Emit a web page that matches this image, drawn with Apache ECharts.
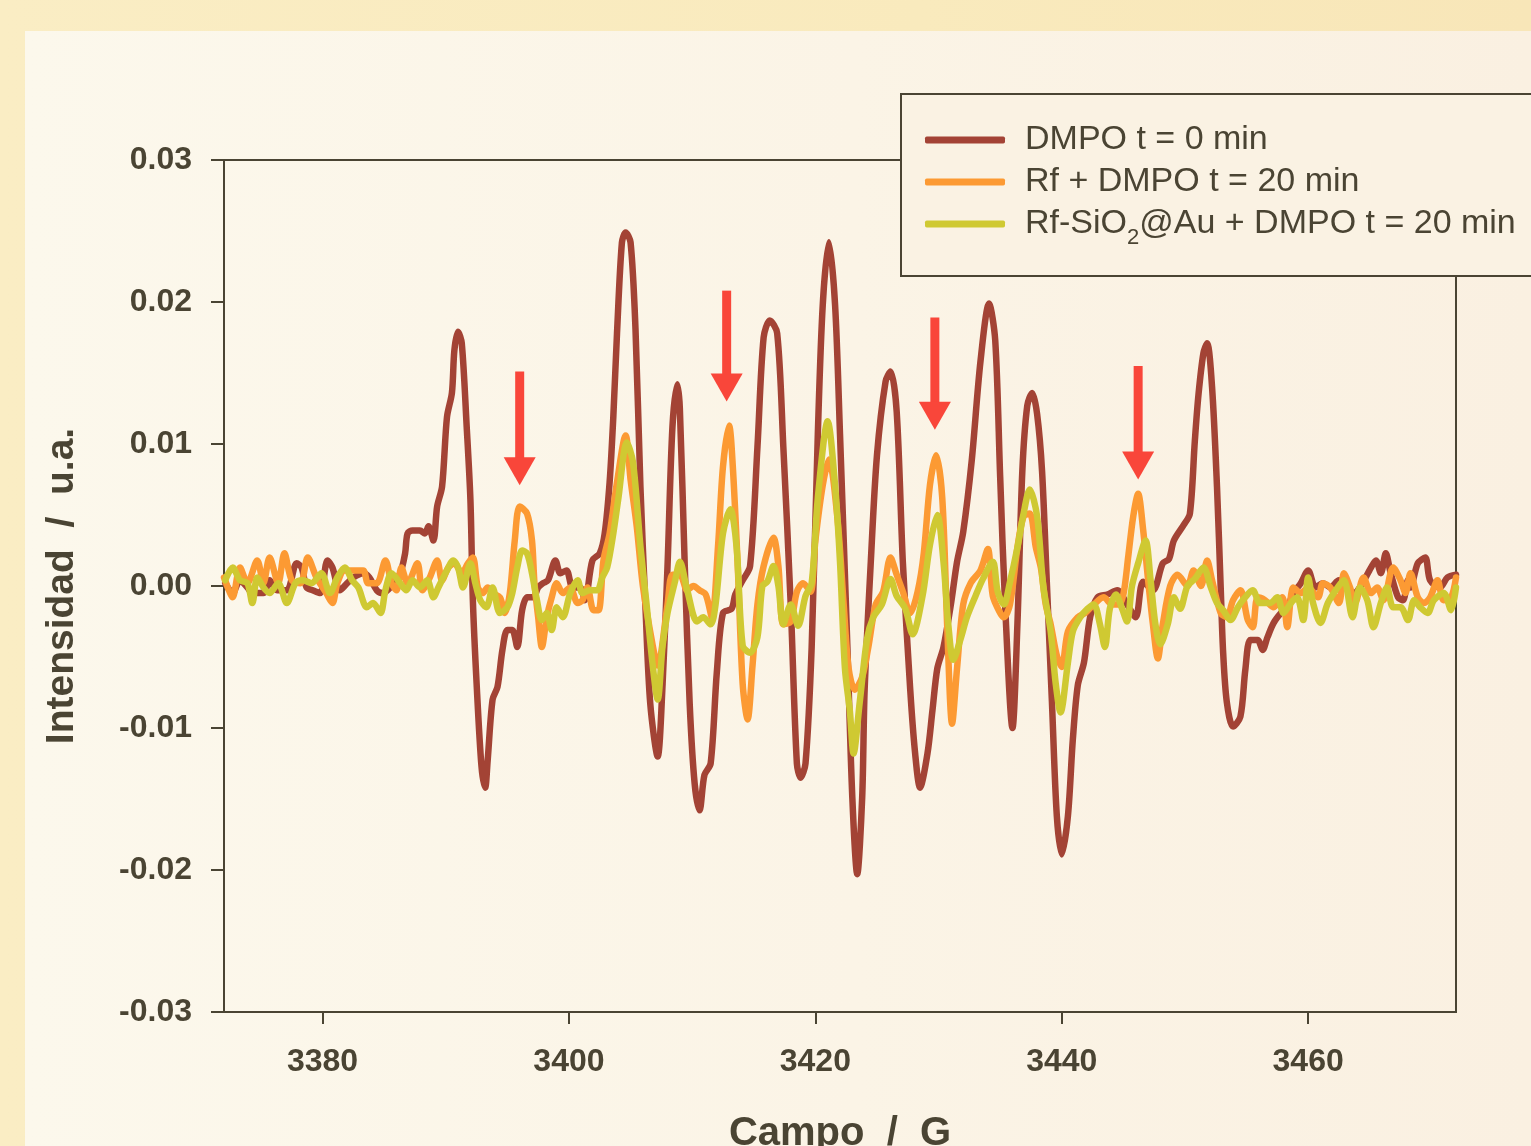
<!DOCTYPE html>
<html>
<head>
<meta charset="utf-8">
<title>EPR DMPO</title>
<script src="https://cdn.jsdelivr.net/npm/echarts@6/dist/echarts.min.js"></script>
<style>
  html, body { margin: 0; padding: 0; width: 1531px; height: 1146px; overflow: hidden;
    background: linear-gradient(90deg, #FAEDC4 0%, #F9EABD 60%, #F8E6B8 100%); }
  #panel { position: absolute; left: 25px; top: 31px; right: 0; bottom: 0;
    background: linear-gradient(90deg, #FCF8EC 0%, #FBF4E6 55%, #FAF0E1 100%); }
  #chart { position: absolute; left: 0; top: 0; width: 1531px; height: 1146px; }
</style>
</head>
<body>
<div id="panel"></div>
<div id="chart"></div>
<script>
// Field (G) / intensity (u.a.) pairs for each spectrum
const dmpo0 = [[3372.1,0.0002],[3372.7,-0.0005],[3373.3,0.0004],[3373.9,-0.0001],[3374.3,-0.0005],[3375.2,-0.0005],[3375.7,0.0004],[3376.3,-0.0003],[3377.1,-0.0003],[3377.9,0.0016],[3378.3,0.0013],[3378.7,-0.0001],[3379.2,-0.0003],[3379.8,-0.0005],[3380.4,0.0018],[3380.8,0.0013],[3381.4,-0.0003],[3382.0,0.0002],[3382.5,0.0006],[3383.3,0.0009],[3383.8,0.0006],[3384.4,-0.0003],[3384.9,-0.0005],[3385.5,-0.0001],[3386.3,0.0009],[3386.7,0.0023],[3386.9,0.0037],[3387.3,0.0039],[3387.9,0.0039],[3388.3,0.0037],[3388.6,0.0042],[3389.0,0.0032],[3389.3,0.0056],[3389.7,0.0070],[3390.1,0.0119],[3390.5,0.0136],[3390.7,0.0166],[3391.0,0.0179],[3391.3,0.0171],[3391.7,0.0112],[3392.0,0.0061],[3392.2,-0.0010],[3392.5,-0.0068],[3392.9,-0.0127],[3393.2,-0.0142],[3393.4,-0.0123],[3393.8,-0.0080],[3394.2,-0.0071],[3394.6,-0.0045],[3395.0,-0.0031],[3395.4,-0.0031],[3395.8,-0.0043],[3396.2,-0.0017],[3396.6,-0.0008],[3397.1,-0.0008],[3397.5,-0.0001],[3397.9,0.0002],[3398.3,0.0004],[3398.9,0.0018],[3399.3,0.0009],[3399.8,0.0011],[3400.3,-0.0001],[3400.9,-0.0001],[3401.3,-0.0010],[3401.9,0.0018],[3402.5,0.0023],[3402.9,0.0037],[3403.3,0.0073],[3403.6,0.0119],[3403.9,0.0178],[3404.3,0.0242],[3404.6,0.0249],[3405.0,0.0242],[3405.4,0.0181],[3405.8,0.0070],[3406.2,-0.0013],[3406.6,-0.0083],[3407.2,-0.0120],[3407.6,-0.0069],[3408.0,0.0014],[3408.4,0.0112],[3408.8,0.0142],[3409.0,0.0125],[3409.4,0.0014],[3409.8,-0.0083],[3410.2,-0.0139],[3410.6,-0.0158],[3411.0,-0.0133],[3411.5,-0.0125],[3412.0,-0.0061],[3412.5,-0.0019],[3413.2,-0.0016],[3413.5,-0.0006],[3414.1,0.0004],[3414.7,0.0014],[3415.3,0.0098],[3415.8,0.0175],[3416.3,0.0187],[3416.9,0.0178],[3417.4,0.0098],[3418.0,-0.0013],[3418.5,-0.0125],[3418.8,-0.0135],[3419.2,-0.0125],[3419.7,-0.0043],[3420.2,0.0107],[3420.6,0.0198],[3421.1,0.0242],[3421.6,0.0198],[3422.0,0.0107],[3422.6,-0.0043],[3423.0,-0.0149],[3423.4,-0.0203],[3423.8,-0.0149],[3424.0,-0.0073],[3424.5,0.0017],[3425.0,0.0092],[3425.7,0.0144],[3426.1,0.0151],[3426.6,0.0123],[3427.1,0.0017],[3427.7,-0.0073],[3428.1,-0.0118],[3428.5,-0.0142],[3429.1,-0.0118],[3429.5,-0.0088],[3429.9,-0.0058],[3430.4,-0.0043],[3431.0,-0.0013],[3431.5,0.0017],[3432.0,0.0038],[3432.7,0.0089],[3433.4,0.0158],[3434.1,0.0199],[3434.6,0.0173],[3435.0,0.0077],[3435.4,-0.0013],[3436.0,-0.0100],[3436.4,-0.0027],[3436.8,0.0081],[3437.2,0.0127],[3437.6,0.0136],[3438.0,0.0121],[3438.4,0.0081],[3438.8,0.0000],[3439.2,-0.0081],[3439.6,-0.0162],[3440.0,-0.0189],[3440.5,-0.0162],[3440.9,-0.0108],[3441.3,-0.0070],[3441.8,-0.0054],[3442.3,-0.0022],[3442.9,-0.0008],[3443.7,-0.0006],[3444.5,-0.0003],[3445.3,-0.0013],[3446.0,-0.0022],[3446.6,0.0003],[3447.4,-0.0003],[3448.2,0.0016],[3448.7,0.0019],[3449.1,0.0032],[3449.9,0.0043],[3450.4,0.0051],[3450.8,0.0102],[3451.1,0.0135],[3451.5,0.0164],[3451.8,0.0171],[3452.2,0.0140],[3452.6,0.0070],[3452.9,-0.0001],[3453.1,-0.0047],[3453.4,-0.0082],[3453.9,-0.0099],[3454.5,-0.0092],[3454.9,-0.0059],[3455.3,-0.0038],[3455.9,-0.0038],[3456.3,-0.0045],[3456.7,-0.0036],[3457.2,-0.0026],[3457.8,-0.0019],[3458.3,-0.0015],[3458.8,-0.0005],[3459.4,0.0002],[3460.0,0.0011],[3460.6,-0.0001],[3461.2,0.0002],[3461.8,-0.0001],[3462.5,0.0004],[3463.2,-0.0001],[3463.7,-0.0005],[3464.2,-0.0001],[3465.1,0.0013],[3465.5,0.0018],[3465.9,0.0009],[3466.3,0.0023],[3466.7,0.0009],[3467.3,-0.0008],[3467.7,-0.0010],[3468.1,0.0004],[3468.3,-0.0001],[3468.9,0.0016],[3469.5,0.0020],[3469.9,0.0004],[3470.7,-0.0001],[3471.3,0.0006],[3472.0,0.0008]];

const rfDmpo20 = [[3372.0,0.0006],[3372.5,-0.0005],[3372.7,-0.0008],[3373.3,0.0013],[3373.9,0.0002],[3374.7,0.0018],[3375.2,0.0002],[3375.7,0.0020],[3376.4,0.0002],[3376.9,0.0023],[3377.5,0.0004],[3378.2,0.0002],[3378.8,0.0020],[3379.5,0.0006],[3380.3,-0.0005],[3380.8,-0.0012],[3381.2,0.0002],[3381.8,0.0011],[3382.5,0.0011],[3383.3,0.0011],[3383.7,0.0002],[3384.4,0.0002],[3385.1,0.0018],[3385.6,0.0002],[3386.0,-0.0003],[3386.4,0.0013],[3386.9,0.0002],[3387.7,0.0016],[3388.1,-0.0003],[3388.7,0.0006],[3389.3,0.0018],[3389.7,0.0004],[3390.2,0.0013],[3390.7,0.0016],[3391.3,0.0009],[3391.8,0.0016],[3392.2,0.0020],[3392.6,-0.0001],[3393.0,-0.0005],[3393.4,-0.0001],[3393.8,-0.0005],[3394.4,-0.0008],[3394.8,-0.0019],[3395.2,-0.0005],[3395.6,0.0032],[3396.0,0.0056],[3396.6,0.0051],[3397.0,0.0032],[3397.2,0.0002],[3397.5,-0.0022],[3397.8,-0.0043],[3398.2,-0.0022],[3398.6,-0.0008],[3399.0,0.0002],[3399.5,-0.0005],[3400.1,-0.0001],[3400.7,-0.0012],[3401.1,-0.0010],[3401.5,-0.0001],[3402.0,-0.0017],[3402.4,-0.0017],[3402.8,0.0018],[3403.3,0.0037],[3403.9,0.0073],[3404.6,0.0106],[3405.0,0.0075],[3405.5,0.0042],[3406.0,0.0000],[3406.8,-0.0042],[3407.2,-0.0056],[3408.0,-0.0013],[3408.4,0.0008],[3409.0,0.0008],[3409.6,-0.0003],[3410.1,0.0000],[3410.6,-0.0003],[3411.1,-0.0006],[3411.6,-0.0022],[3412.1,0.0028],[3412.5,0.0084],[3413.0,0.0113],[3413.3,0.0084],[3413.7,0.0014],[3414.1,-0.0069],[3414.5,-0.0094],[3414.9,-0.0056],[3415.3,-0.0013],[3415.8,0.0014],[3416.6,0.0034],[3417.0,0.0014],[3417.4,-0.0027],[3418.0,-0.0025],[3418.5,-0.0004],[3419.0,0.0002],[3419.6,-0.0004],[3420.0,0.0032],[3420.6,0.0071],[3421.1,0.0089],[3421.8,0.0047],[3422.3,-0.0013],[3422.7,-0.0058],[3423.2,-0.0073],[3423.8,-0.0064],[3424.3,-0.0043],[3424.9,-0.0013],[3425.5,-0.0004],[3426.1,0.0020],[3426.6,0.0008],[3427.1,-0.0004],[3427.7,-0.0019],[3428.3,-0.0004],[3428.8,0.0023],[3429.3,0.0071],[3429.8,0.0092],[3430.3,0.0062],[3430.7,-0.0028],[3431.1,-0.0097],[3431.5,-0.0058],[3432.0,-0.0013],[3432.6,0.0002],[3433.4,0.0011],[3434.0,0.0026],[3434.4,-0.0007],[3435.0,-0.0019],[3435.3,-0.0022],[3435.8,-0.0013],[3436.4,0.0027],[3436.9,0.0049],[3437.4,0.0051],[3437.9,0.0027],[3438.3,0.0013],[3438.7,-0.0013],[3439.1,-0.0027],[3439.6,-0.0049],[3440.0,-0.0057],[3440.5,-0.0032],[3441.3,-0.0022],[3441.9,-0.0019],[3442.6,-0.0013],[3443.4,-0.0008],[3444.1,-0.0013],[3444.6,-0.0013],[3445.0,-0.0006],[3445.4,0.0021],[3445.8,0.0049],[3446.2,0.0065],[3446.6,0.0040],[3447.0,0.0005],[3447.4,-0.0027],[3447.8,-0.0051],[3448.2,-0.0027],[3448.8,0.0000],[3449.4,0.0008],[3450.2,0.0000],[3450.7,0.0011],[3451.3,0.0000],[3451.8,0.0018],[3452.2,0.0004],[3452.9,-0.0019],[3453.4,-0.0022],[3453.9,-0.0010],[3454.5,-0.0003],[3455.1,-0.0024],[3455.5,-0.0029],[3455.9,-0.0008],[3456.5,-0.0010],[3457.2,-0.0015],[3457.9,-0.0008],[3458.3,-0.0029],[3458.8,-0.0001],[3459.4,-0.0005],[3460.0,-0.0001],[3460.8,-0.0008],[3461.2,0.0002],[3461.8,-0.0001],[3462.5,-0.0012],[3462.9,0.0009],[3463.4,-0.0001],[3463.8,-0.0012],[3464.5,0.0006],[3465.1,-0.0005],[3465.6,-0.0001],[3466.1,-0.0010],[3466.9,0.0013],[3467.5,0.0004],[3467.9,-0.0005],[3468.3,0.0009],[3468.9,-0.0008],[3469.4,-0.0012],[3469.9,-0.0008],[3470.5,0.0004],[3471.0,-0.0010],[3471.6,-0.0008],[3472.0,0.0006]];

const rfSiAu20 = [[3372.1,0.0004],[3372.7,0.0013],[3373.3,0.0004],[3373.9,0.0002],[3374.3,-0.0012],[3374.7,0.0006],[3375.2,-0.0001],[3375.7,-0.0005],[3376.4,0.0002],[3377.1,-0.0012],[3377.8,0.0002],[3378.4,0.0004],[3379.1,0.0002],[3379.9,0.0009],[3380.6,-0.0005],[3381.2,0.0006],[3381.8,0.0013],[3382.4,0.0004],[3382.9,-0.0001],[3383.6,-0.0015],[3384.1,-0.0012],[3384.7,-0.0019],[3385.1,-0.0003],[3385.6,0.0009],[3386.3,0.0002],[3386.8,-0.0003],[3387.3,0.0004],[3387.9,-0.0001],[3388.5,0.0004],[3389.0,-0.0008],[3389.4,-0.0001],[3390.1,0.0011],[3390.6,0.0018],[3391.0,0.0013],[3391.4,-0.0001],[3392.0,0.0016],[3392.4,0.0002],[3392.8,-0.0010],[3393.3,-0.0015],[3393.8,-0.0001],[3394.4,-0.0019],[3395.0,-0.0015],[3395.4,-0.0005],[3395.8,0.0013],[3396.2,0.0025],[3396.6,0.0023],[3397.0,0.0009],[3397.4,-0.0010],[3397.8,-0.0024],[3398.2,-0.0019],[3398.6,-0.0031],[3399.0,-0.0015],[3399.5,-0.0022],[3400.1,-0.0005],[3400.7,0.0004],[3401.1,-0.0005],[3401.7,-0.0003],[3402.3,-0.0003],[3402.7,0.0006],[3403.1,0.0013],[3403.6,0.0037],[3404.0,0.0061],[3404.7,0.0101],[3405.2,0.0087],[3405.8,0.0028],[3406.3,-0.0013],[3406.8,-0.0056],[3407.2,-0.0080],[3407.6,-0.0042],[3408.0,-0.0019],[3408.6,0.0003],[3409.0,0.0017],[3409.6,-0.0003],[3410.4,-0.0025],[3410.9,-0.0022],[3411.5,-0.0027],[3411.9,-0.0013],[3412.5,0.0037],[3413.1,0.0054],[3413.6,0.0028],[3414.1,-0.0042],[3414.7,-0.0047],[3415.3,-0.0036],[3415.7,0.0000],[3416.1,0.0003],[3416.6,0.0014],[3417.0,0.0000],[3417.4,-0.0027],[3418.0,-0.0013],[3418.6,-0.0028],[3419.2,-0.0007],[3419.7,0.0002],[3420.2,0.0062],[3421.0,0.0116],[3421.6,0.0071],[3422.0,0.0017],[3422.4,-0.0058],[3422.8,-0.0088],[3423.1,-0.0118],[3423.6,-0.0082],[3424.2,-0.0037],[3424.7,-0.0022],[3425.4,-0.0013],[3426.1,0.0005],[3426.6,-0.0007],[3427.3,-0.0016],[3427.9,-0.0034],[3428.7,-0.0007],[3429.3,0.0029],[3429.9,0.0050],[3430.4,0.0017],[3430.8,-0.0028],[3431.2,-0.0052],[3431.8,-0.0037],[3432.3,-0.0022],[3433.0,-0.0007],[3433.6,0.0005],[3434.4,0.0017],[3434.8,-0.0004],[3435.3,-0.0013],[3435.8,0.0003],[3436.4,0.0027],[3436.9,0.0051],[3437.4,0.0068],[3438.0,0.0049],[3438.5,0.0000],[3439.1,-0.0032],[3439.5,-0.0068],[3439.9,-0.0089],[3440.5,-0.0054],[3440.9,-0.0032],[3441.5,-0.0022],[3442.1,-0.0016],[3442.6,-0.0013],[3443.1,-0.0027],[3443.5,-0.0043],[3443.9,-0.0016],[3444.4,-0.0006],[3444.9,-0.0016],[3445.3,-0.0025],[3445.7,0.0000],[3446.2,0.0016],[3446.8,0.0032],[3447.2,0.0005],[3447.6,-0.0027],[3448.0,-0.0041],[3448.6,-0.0027],[3449.1,-0.0008],[3449.6,-0.0016],[3450.2,0.0000],[3450.8,0.0005],[3451.5,0.0013],[3452.1,-0.0001],[3452.6,-0.0012],[3453.1,-0.0017],[3453.7,-0.0024],[3454.3,-0.0015],[3454.7,-0.0010],[3455.5,-0.0003],[3456.1,-0.0012],[3456.9,-0.0012],[3457.5,-0.0008],[3458.0,-0.0019],[3458.6,-0.0012],[3459.1,-0.0008],[3459.6,-0.0024],[3460.0,0.0006],[3460.4,-0.0012],[3461.0,-0.0026],[3461.6,-0.0012],[3462.4,-0.0001],[3462.9,0.0004],[3463.6,-0.0022],[3464.2,-0.0001],[3464.8,-0.0010],[3465.3,-0.0029],[3465.9,-0.0012],[3466.4,-0.0001],[3466.9,-0.0015],[3467.5,-0.0015],[3468.1,-0.0024],[3468.6,-0.0010],[3469.1,-0.0015],[3469.7,-0.0019],[3470.2,-0.0010],[3471.0,-0.0005],[3471.6,-0.0017],[3472.0,-0.0001]];

// Marker arrows over the new adduct lines: field, tail intensity, tip intensity
const arrowField = [3396.0, 3412.8, 3429.7, 3446.2];
const arrowTail  = [0.0151, 0.0208, 0.0189, 0.0155];
const arrowTip   = [0.0071, 0.0130, 0.0110, 0.0075];

const fieldTicks = [3380, 3400, 3420, 3440, 3460];
const seriesNames = ['DMPO t = 0 min', 'Rf + DMPO t = 20 min', 'Rf-SiO2@Au + DMPO t = 20 min'];
const seriesColors = ['#A34335', '#FC9A33', '#CFC932'];

const ink = '#4A4433';
const arrowColor = '#F9463A';
const fontFamily = "'Liberation Sans', Arial, Helvetica, sans-serif";

const chart = echarts.init(document.getElementById('chart'), null, { renderer: 'canvas' });

function lineSeries(name, data, color, z) {
  return {
    type: 'line', name, data, color, z,
    showSymbol: false, symbol: 'none', smooth: 0.3,
    lineStyle: { color, width: 6.5, cap: 'round', join: 'round' },
    emphasis: { disabled: true }
  };
}

const option = {
  animation: false,
  textStyle: { fontFamily },
  grid: {
    left: 224, right: 75, top: 160, bottom: 134,
    show: true, borderColor: ink, borderWidth: 2, backgroundColor: 'transparent',
    outerBoundsMode: 'none'
  },
  legend: {
    left: 901, top: 94, orient: 'vertical',
    data: seriesNames,
    icon: 'roundRect', itemWidth: 80, itemHeight: 7, itemGap: -8,
    padding: [21, 40, 27, 24],
    backgroundColor: '#FAF2E3', borderColor: ink, borderWidth: 2, borderRadius: 0,
    selectedMode: false,
    textStyle: {
      fontSize: 34, color: ink, lineHeight: 50, padding: [0, 0, 0, 15], fontFamily,
      // subscript sits on the bottom edge of the taller line box
      rich: { sub: { fontSize: 22, lineHeight: 7, verticalAlign: 'bottom', color: ink, fontFamily } }
    },
    formatter: name => name === seriesNames[2] ? 'Rf-SiO{sub|2}@Au + DMPO t = 20 min' : name
  },
  xAxis: {
    type: 'value', min: 3372, max: 3472,
    name: 'Campo  /  G', nameLocation: 'middle', nameGap: 102,
    nameTextStyle: { fontSize: 40, fontWeight: 'bold', color: ink, fontFamily },
    axisLine: { onZero: false, lineStyle: { color: ink, width: 2 } },
    axisTick: { length: 12, lineStyle: { color: ink, width: 2 }, customValues: fieldTicks },
    axisLabel: { customValues: fieldTicks, formatter: v => String(v), fontSize: 32, fontWeight: 'bold', color: ink, margin: 34, fontFamily },
    splitLine: { show: false }
  },
  yAxis: {
    type: 'value', min: -0.03, max: 0.03, interval: 0.01,
    name: 'Intensidad  /  u.a.', nameLocation: 'middle', nameGap: 142, nameRotate: 90,
    nameTextStyle: { fontSize: 39, fontWeight: 'bold', color: ink, fontFamily },
    axisLine: { onZero: false, lineStyle: { color: ink, width: 2 } },
    axisTick: { length: 13, lineStyle: { color: ink, width: 2 } },
    axisLabel: { formatter: v => v.toFixed(2), fontSize: 32, fontWeight: 'bold', color: ink, margin: 32, fontFamily },
    splitLine: { show: false }
  },
  series: [
    lineSeries(seriesNames[0], dmpo0, seriesColors[0], 2),
    lineSeries(seriesNames[1], rfDmpo20, seriesColors[1], 3),
    lineSeries(seriesNames[2], rfSiAu20, seriesColors[2], 4),
    {
      type: 'custom', name: 'arrows', silent: true, z: 6, clip: false,
      data: arrowField.map((f, i) => [f, arrowTail[i], arrowTip[i]]),
      encode: { x: 0, y: [1, 2] },
      renderItem: (params, api) => {
        const tail = api.coord([api.value(0), api.value(1)]);
        const tip = api.coord([api.value(0), api.value(2)]);
        const headH = 28, headW = 32, shaftW = 9;
        return {
          type: 'group',
          children: [
            { type: 'rect', shape: { x: tail[0] - shaftW / 2, y: tail[1], width: shaftW, height: tip[1] - headH - tail[1] + 1 }, style: { fill: arrowColor } },
            { type: 'polygon', shape: { points: [[tip[0] - headW / 2, tip[1] - headH], [tip[0] + headW / 2, tip[1] - headH], [tip[0], tip[1]]] }, style: { fill: arrowColor } }
          ]
        };
      }
    }
  ]
};

chart.setOption(option);
</script>
</body>
</html>
